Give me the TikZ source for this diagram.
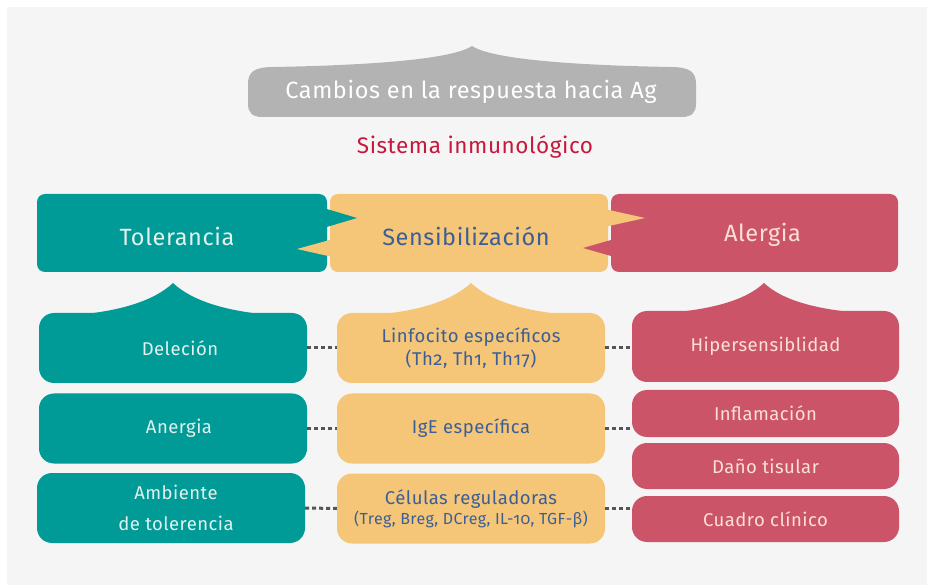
\documentclass[tikz,border=0pt]{standalone}
\usepackage{fontspec}
\setmainfont{Fira Sans}[Numbers=OldStyle, LetterSpace=2.5]
\usetikzlibrary{calc, positioning}

\definecolor{bgc}{HTML}{F5F5F5}
\definecolor{capgray}{HTML}{B3B3B3}
\definecolor{tealc}{HTML}{009B96}
\definecolor{yelc}{HTML}{F5C678}
\definecolor{redc}{HTML}{CC5469}
\definecolor{teallt}{HTML}{E2F1EE}
\definecolor{redlt}{HTML}{FBE0D4}
\definecolor{bluetxt}{HTML}{3C5E96}
\definecolor{systxt}{HTML}{C8173C}
\definecolor{dotc}{HTML}{555555}

\begin{document}
\begin{tikzpicture}[x=1pt, y=-1pt,
    headbox/.style={rounded corners=8pt, minimum height=78pt, inner sep=0pt},
    headtxt/.style={font=\fontsize{23.5}{28}\selectfont},
    subbox/.style={rounded corners=15pt, minimum width=268pt, minimum height=70pt,
      inner sep=0pt, align=center, font=\fontsize{18.5}{23}\selectfont},
    dotline/.style={line width=3pt, dash pattern=on 4pt off 3pt, dotc}]
    % Background
    \useasboundingbox (0,0) rectangle (927,585);
    \fill[bgc] (7,7) rectangle (927,585);

    % Top cap
    \fill[capgray] (262,117) -- (682,117) .. controls (692,117) and (696,112) .. (696,104)
      -- (696,84) .. controls (696,72) and (690,67) .. (670,67)
      .. controls (560,65) and (490,58) .. (472,46)
      .. controls (454,58) and (384,65) .. (274,67)
      .. controls (254,67) and (248,72) .. (248,84)
      -- (248,104) .. controls (248,112) and (252,117) .. (262,117) -- cycle;
    \node[headtxt, text=white] (cap) at (471,92) {Cambios en la respuesta hacia Ag};
    \node[text=systxt, font=\fontsize{22.5}{27}\selectfont] (sys) at (475,147) {Sistema inmunológico};

    % Header boxes
    \node[headbox, fill=tealc, minimum width=290pt,
      label={[headtxt, text=teallt, xshift=-5pt, yshift=-3pt]center:Tolerancia}] (tol) at (182,233) {};
    \node[headbox, fill=yelc, minimum width=278pt,
      label={[headtxt, text=bluetxt, xshift=-3pt, yshift=-3pt]center:Sensibilización}] (sen) at (469,233) {};
    \node[headbox, fill=redc, minimum width=287pt,
      label={[headtxt, text=redlt, xshift=8pt, yshift=-2pt]center:Alergia}] (ale) at (754.5,233) {};

    % Spikes between the headers
    \fill[tealc] (320,207) -- (357,218) -- (320,229) -- cycle;
    \fill[yelc] (337,238) -- (297,249) -- (337,258) -- cycle;
    \fill[yelc] (600,208) -- (645,218) -- (600,228) -- cycle;
    \fill[redc] (618,238) -- (583,248) -- (618,258) -- cycle;

    % Tolerancia column
    \node[subbox, fill=tealc, text=teallt] (del) at (173,348) {\hspace*{14pt}Deleción};
    \node[subbox, fill=tealc, text=teallt] (ane) at (173,428.5) {\hspace*{12pt}Anergia};
    \node[subbox, fill=tealc, text=teallt] (amb) at (171,508) {\hspace*{10pt}Ambiente\\[8pt]\hspace*{10pt}de tolerencia};

    % Sensibilizacion column
    \node[subbox, fill=yelc, text=bluetxt] (lin) at (471,348) {Linfocito específicos\\(Th2, Th1, Th17)};
    \node[subbox, fill=yelc, text=bluetxt] (ige) at (471,428.5) {IgE específica};
    \node[subbox, fill=yelc, text=bluetxt] (cel) at (471,508.5) {Células reguladoras\\[-3pt]
      {\fontsize{16}{19}\selectfont (Treg, Breg, DCreg, IL-10, TGF-β)}};

    % Alergia column
    \node[subbox, fill=redc, text=redlt, minimum width=267pt, minimum height=71pt] (hip) at (765.5,346.5) {Hipersensiblidad};
    \node[subbox, fill=redc, text=redlt, minimum width=267pt, minimum height=47pt] (inf) at (765.5,413.5) {Inflamación};
    \node[subbox, fill=redc, text=redlt, minimum width=267pt, minimum height=46pt] (dan) at (765.5,466) {Daño tisular};
    \node[subbox, fill=redc, text=redlt, minimum width=267pt, minimum height=46pt] (cua) at (765.5,519) {Cuadro clínico};

    % Peaks on the first boxes
    \foreach \px/\pc/\py in {173/tealc/316, 471/yelc/316, 764/redc/314}
      \fill[\pc] (\px-113,\py) .. controls (\px-53,\py-3) and (\px-18,300) .. (\px,283)
        .. controls (\px+18,300) and (\px+53,\py-3) .. (\px+113,\py) -- cycle;

    % Dotted links
    \draw[dotline] (del.east) -- (lin.west);
    \draw[dotline] (ane.east) -- (ige.west);
    \draw[dotline] (amb.east) -- (cel.west);
    \draw[dotline] (lin.east) -- (lin.east -| hip.west);
    \draw[dotline] (ige.east) -- (ige.east -| inf.west);
    \draw[dotline] (cel.east) -- (cel.east -| cua.west);
\end{tikzpicture}
\end{document}
